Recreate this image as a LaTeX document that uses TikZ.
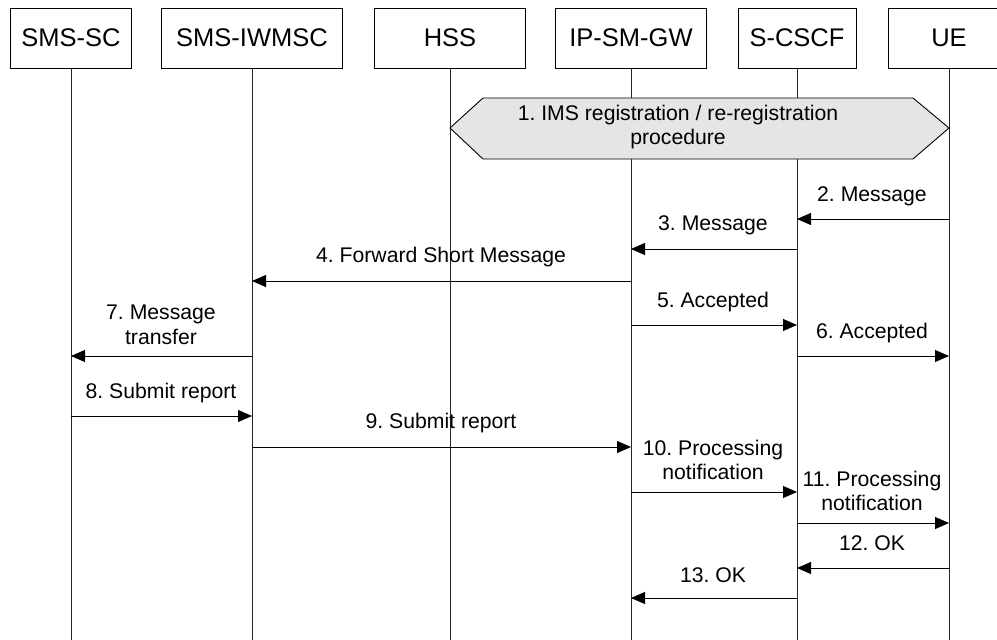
\documentclass[tikz,border=0pt]{standalone}
\usepackage{fontspec}
\setmainfont{Liberation Sans}
\usetikzlibrary{arrows.meta}
\frenchspacing
\begin{document}
\begin{tikzpicture}[x=1pt,y=-1pt,
  ent/.style={draw, line width=0.9pt, minimum height=60pt, inner sep=0pt, font=\fontsize{25.5}{30}\selectfont},
  life/.style={line width=0.9pt, black!85},
  msg/.style={line width=0.9pt, -{Triangle[length=14pt,width=12pt]}},
  lbl/.style={font=\fontsize{21.2}{24.5}\selectfont, align=center, inner sep=0pt},
  proc/.style={draw, line width=0.9pt, fill=black!10}]
\useasboundingbox (0,0) rectangle (997,640);
\fill[white] (0,0) rectangle (997,640);
% entities
\node[ent, minimum width=121pt] (smssc) at (71,38) {SMS-SC};
\node[ent, minimum width=181pt] (iwmsc) at (252,38) {SMS-IWMSC};
\node[ent, minimum width=151pt] (hss) at (450,38) {HSS};
\node[ent, minimum width=151pt] (ipsm) at (631,38) {IP-SM-GW};
\node[ent, minimum width=118pt] (scscf) at (797,38) {S-CSCF};
\node[ent, minimum width=122pt] (ue) at (949,38) {UE};
% lifelines
\foreach \n in {smssc,iwmsc,hss,ipsm,scscf,ue}
  \draw[life] (\n.south) -- (\n.south |- 0,640);
% procedure hexagon
\coordinate (hl) at (hss |- 0,128);
\coordinate (hr) at (ue |- 0,128);
\draw[proc] (hl) -- (483,98) -- (913,98) -- (hr) -- (913,159) -- (483,159) -- cycle;
\node[lbl] (p1) at (678,127) {1. IMS registration / re-registration\\procedure};
% messages
\draw[msg] (ue |- 0,219) -- (scscf |- 0,219);
\node[lbl] (l2) at (872,196) {2. Message};
\draw[msg] (scscf |- 0,249) -- (ipsm |- 0,249);
\node[lbl] (l3) at (713,225) {3. Message};
\draw[msg] (ipsm |- 0,281) -- (iwmsc |- 0,281);
\node[lbl] (l4) at (441,257) {4. Forward Short Message};
\draw[msg] (ipsm |- 0,325) -- (scscf |- 0,325);
\node[lbl] (l5) at (713,302) {5. Accepted};
\draw[msg] (scscf |- 0,356) -- (ue |- 0,356);
\node[lbl] (l6) at (872,333) {6. Accepted};
\draw[msg] (iwmsc |- 0,356) -- (smssc |- 0,356);
\node[lbl] (l7) at (161,325) {7. Message\\transfer};
\draw[msg] (smssc |- 0,416) -- (iwmsc |- 0,416);
\node[lbl] (l8) at (161,393) {8. Submit report};
\draw[msg] (iwmsc |- 0,447) -- (ipsm |- 0,447);
\node[lbl] (l9) at (441,423) {9. Submit report};
\draw[msg] (ipsm |- 0,492) -- (scscf |- 0,492);
\node[lbl] (l10) at (713,460) {10. Processing\\notification};
\draw[msg] (scscf |- 0,523) -- (ue |- 0,523);
\node[lbl] (l11) at (872,491) {11. Processing\\notification};
\draw[msg] (ue |- 0,568) -- (scscf |- 0,568);
\node[lbl] (l12) at (872,543) {12. OK};
\draw[msg] (scscf |- 0,598) -- (ipsm |- 0,598);
\node[lbl] (l13) at (713,575) {13. OK};
\end{tikzpicture}
\end{document}
